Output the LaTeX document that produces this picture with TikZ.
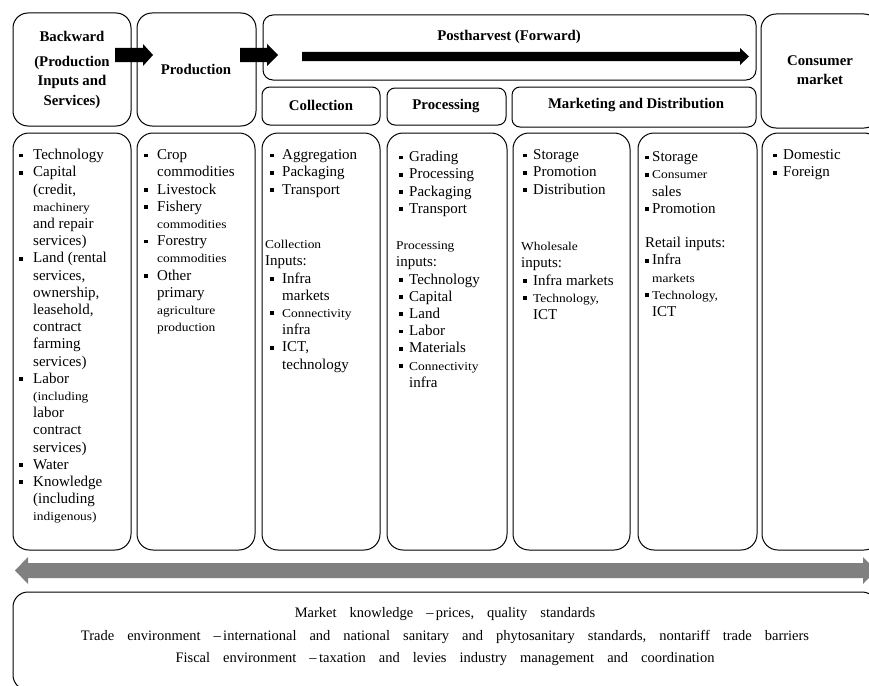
\documentclass[tikz,border=0pt]{standalone}
\usepackage{fontspec}
\setmainfont{Liberation Serif}
\usepackage{graphicx}
\usetikzlibrary{fit}

\definecolor{arrowgray}{RGB}{128,128,128}

% bullet lists: \bl starts an item, \cl continues it
\newdimen\blw
\newdimen\blo
\newcommand\bl{\hspace*{\blo}\makebox[\blw][l]{\raisebox{2.4pt}{\rule{3.8pt}{3.8pt}}}}
\newcommand\cl{\hspace*{\blo}\hspace*{\blw}}
\newcommand\sm[1]{\scalebox{1.12}[1]{\fontsize{12}{17.2}\selectfont #1}}
\newcommand\fl{\rule{0pt}{12pt}}
\newcommand\wsp{\spaceskip=13pt\relax}

\begin{document}
\begin{tikzpicture}[x=1pt,y=-1pt,
  box/.style={draw, line width=1pt, rounded corners=#1, inner sep=0pt},
  box/.default=15pt,
  hd/.style={font=\fontsize{14.8}{19.5}\selectfont\bfseries, align=center, inner sep=0pt},
  lst/.style={anchor=north west, inner sep=0pt, align=left, font=\fontsize{15}{17.2}\selectfont},
  bw/.code={\global\blw=#1\relax},
  bo/.code={\global\blo=#1\relax},
  blockarrow/.style={fill=black},
  backarrow/.style={fill=arrowgray}
]
\useasboundingbox (0,0) rectangle (869,685);
\clip (0,0) rectangle (869,685);

% ---------- header row ----------
\node[box] (back) [fit={(13,13) (131,126)}] {};
\node[box] (prod) [fit={(137,13) (256,126)}] {};
\node[box=10pt] (post) [fit={(263,15) (756,80)}] {};
\node[box=8pt] (coll) [fit={(262,87) (380,125)}] {};
\node[box=8pt] (proc) [fit={(387,88) (506,125)}] {};
\node[box=8pt] (mkt) [fit={(512,87) (756,127)}] {};
\node[box] (cons) [fit={(761,14) (879,128)}] {};

% ---------- column bodies ----------
\node[box=16pt] (c1) [fit={(13,133) (131,550)}] {};
\node[box=16pt] (c2) [fit={(137,133) (255,550)}] {};
\node[box=16pt] (c3) [fit={(262,133) (380,550)}] {};
\node[box=16pt] (c4) [fit={(387,133) (507,550)}] {};
\node[box=16pt] (c5) [fit={(513,133) (630,550)}] {};
\node[box=16pt] (c6) [fit={(638,133) (757,550)}] {};
\node[box=16pt] (c7) [fit={(762,133) (880,550)}] {};

% ---------- environment box ----------
\node[box] (env) [fit={(13,592) (877,690)}] {};

% ---------- flow arrows ----------
\fill[blockarrow] (115,48) -- (143,48) -- (143,44) -- (153,55) -- (143,66) -- (143,62) -- (115,62) -- cycle;
\fill[blockarrow] (240,48) -- (267,48) -- (267,44) -- (278,55) -- (267,66) -- (267,62) -- (240,62) -- cycle;
\fill[blockarrow] (302,52) -- (740,52) -- (740,48) -- (749,56.5) -- (740,65) -- (740,61) -- (302,61) -- cycle;
\fill[backarrow] (15,570.5) -- (28,557) -- (28,563) -- (863,563) -- (863,557) -- (876,570.5)
  -- (863,584) -- (863,578) -- (28,578) -- (28,584) -- cycle;

% ---------- header labels ----------
\node[hd, anchor=north] (tback) at (72,29.5) {\fl Backward\\[5pt] (Production\\ Inputs and\\ Services)};
\node[hd] (tprod) at (196,69) {Production};
\node[hd] (tpost) at (509,37) {Postharvest (Forward)};
\node[hd] (tcoll) at (321,105) {Collection};
\node[hd] (tproc) at (446,106) {Processing};
\node[hd] (tmkt) at (636,105) {Marketing and Distribution};
\node[hd] (tcons) at (820,70) {Consumer\\ market};

% ---------- column contents ----------
\node[lst, bw=14pt, bo=0pt] (l1) at (19,147.5) {\fl\bl Technology\\ \bl Capital\\ \cl (credit,\\ \cl\sm{machinery}\\
  \cl and repair\\ \cl services)\\ \bl Land (rental\\ \cl services,\\ \cl ownership,\\ \cl leasehold,\\
  \cl contract\\ \cl farming\\ \cl services)\\ \bl Labor\\ \cl\sm{(including}\\ \cl labor\\ \cl contract\\
  \cl services)\\ \bl Water\\ \bl Knowledge\\ \cl (including\\ \cl\sm{indigenous)}};

\node[lst, bw=13pt, bo=0pt] (l2) at (144,147.5) {\fl\bl Crop\\ \cl commodities\\ \bl Livestock\\ \bl Fishery\\
  \cl\sm{commodities}\\ \bl Forestry\\ \cl\sm{commodities}\\ \bl Other\\ \cl primary\\ \cl\sm{agriculture}\\
  \cl\sm{production}};

\node[lst, bw=12pt, bo=0pt] (l3) at (270,147.5) {\fl\bl Aggregation\\ \bl Packaging\\ \bl Transport};
\node[lst, bw=12pt, bo=5pt] (i3) at (265,236.5) {\fl\sm{Collection}\\ Inputs:\\ \bl Infra\\ \cl markets\\
  \bl\sm{Connectivity}\\ \cl infra\\ \bl ICT,\\ \cl technology};

\node[lst, bw=10pt, bo=0pt] (l4) at (399,149.5) {\fl\bl Grading\\ \bl Processing\\ \bl Packaging\\ \bl Transport};
\node[lst, bw=10pt, bo=3pt] (i4) at (396,237.5) {\fl\sm{Processing}\\ inputs:\\ \bl Technology\\ \bl Capital\\
  \bl Land\\ \bl Labor\\ \bl Materials\\ \bl\sm{Connectivity}\\ \cl infra};

\node[lst, bw=10pt, bo=0pt] (l5) at (523,147.5) {\fl\bl Storage\\ \bl Promotion\\ \bl Distribution};
\node[lst, bw=10pt, bo=2pt] (i5) at (521,238.5) {\fl\sm{Wholesale}\\ inputs:\\ \bl Infra markets\\
  \bl\sm{Technology,}\\ \cl ICT};

\node[lst, bw=7pt, bo=0pt] (l6) at (645,149.5) {\fl\bl Storage\\ \bl\sm{Consumer}\\ \cl sales\\ \bl Promotion};
\node[lst, bw=7pt, bo=0pt] (i6) at (645,235.5) {\fl Retail inputs:\\ \bl Infra\\ \cl\sm{markets}\\
  \bl\sm{Technology,}\\ \cl ICT};

\node[lst, bw=10pt, bo=0pt] (l7) at (773,147.5) {\fl\bl Domestic\\ \bl Foreign};

% ---------- environment text ----------
\node[font=\fontsize{14.5}{22.5}\selectfont, align=center, inner sep=0pt] (tenv) at (445,637)
  {\wsp Market knowledge –\,prices, quality standards\\
   \wsp Trade environment –\,international and national sanitary and phytosanitary standards, nontariff trade barriers\\
   \wsp Fiscal environment –\,taxation and levies industry management and coordination};
\end{tikzpicture}
\end{document}
